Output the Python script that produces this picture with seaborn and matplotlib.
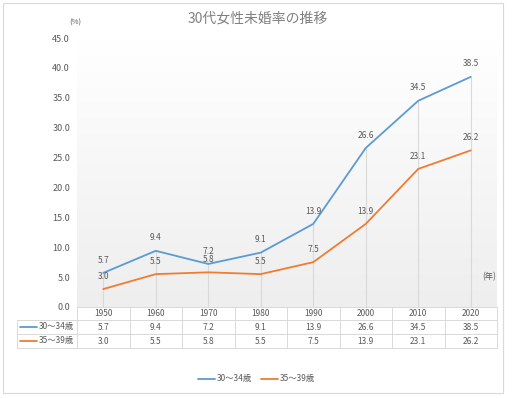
import numpy as np
import pandas as pd
import seaborn as sns
import matplotlib.pyplot as plt
from matplotlib.lines import Line2D
from matplotlib.patches import Rectangle
from matplotlib.colors import LinearSegmentedColormap

sns.set_style("white")
plt.rcParams['font.family'] = ['Noto Sans CJK JP', 'DejaVu Sans']

# データ
years = ['1950', '1960', '1970', '1980', '1990', '2000', '2010', '2020']
age_30_34 = [5.7, 9.4, 7.2, 9.1, 13.9, 26.6, 34.5, 38.5]
age_35_39 = [3.0, 5.5, 5.8, 5.5, 7.5, 13.9, 23.1, 26.2]
series_names = ['30～34歳', '35～39歳']
colors = ['#5b9bd5', '#ed7d31']
title = '30代女性未婚率の推移'

W, H = 512, 398
fig = plt.figure(figsize=(W / 100, H / 100), dpi=100)
fig.patch.set_facecolor('white')

def fx(px):
    return px / W

def fy(py):
    return 1 - py / H

# 外枠
fig.patches.append(Rectangle((fx(3), fy(393)), fx(500), 390 / H, transform=fig.transFigure,
                             fill=False, edgecolor='#d9d9d9', lw=0.8))

x_left, x_right, y_top, y_bot = 77, 497, 38, 307
ax = fig.add_axes([fx(x_left), fy(y_bot), fx(x_right - x_left), (y_bot - y_top) / H])

df = pd.DataFrame({'x': list(range(len(years))) * 2,
                   'val': age_30_34 + age_35_39,
                   'series': [series_names[0]] * len(years) + [series_names[1]] * len(years)})

# 背景グラデーション
grad = np.linspace(0, 1, 100).reshape(-1, 1)
cmap = LinearSegmentedColormap.from_list('g', ['#eeeeee', '#ffffff'])
ax.imshow(grad, extent=(-0.5, 7.5, 0, 45), aspect='auto', cmap=cmap, origin='lower', zorder=0)

# 降下線
for i in range(len(years)):
    top = max(age_30_34[i], age_35_39[i])
    ax.plot([i, i], [0, top], color='#d9d9d9', lw=0.8, zorder=1)

sns.lineplot(data=df, x='x', y='val', hue='series', palette=colors, ax=ax, lw=1.3,
             legend=False, zorder=3)

for vals in (age_30_34, age_35_39):
    for i, v in enumerate(vals):
        ax.text(i, v + 1.4, f'{v:.1f}', ha='center', va='bottom', fontsize=6, color='#595959', zorder=4)

ax.set_xlim(-0.5, 7.5)
ax.set_ylim(0, 45)
ax.set_yticks(np.arange(0, 46, 5))
ax.set_yticklabels([f'{t:.1f}' for t in np.arange(0, 46, 5)], fontsize=6.5, color='#595959')
ax.set_xticks([])
ax.set_xlabel('')
ax.set_ylabel('')
ax.tick_params(axis='y', length=0, pad=5)
for s in ax.spines.values():
    s.set_visible(False)

# タイトルなど
fig.text(fx(258), fy(19), title, ha='center', va='center', fontsize=10, color='#808080')
fig.text(fx(75), fy(23), '(%)', ha='center', va='center', fontsize=5.5, color='#595959')
fig.text(fx(489), fy(277), '(年)', ha='center', va='center', fontsize=6, color='#595959')

# データテーブル
col_w = (x_right - x_left) / len(years)
row_y = [307, 320, 334, 348]
grid_c = '#d9d9d9'

def hline(x0, x1, y):
    fig.add_artist(Line2D([fx(x0), fx(x1)], [fy(y), fy(y)], color=grid_c, lw=0.7))

def vline(x, y0, y1):
    fig.add_artist(Line2D([fx(x), fx(x)], [fy(y0), fy(y1)], color=grid_c, lw=0.7))

hline(x_left, x_right, row_y[0])
for y in row_y[1:]:
    hline(17, x_right, y)
for k in range(len(years) + 1):
    vline(x_left + k * col_w, row_y[0], row_y[3])
vline(17, row_y[1], row_y[3])

for i, yr in enumerate(years):
    cx = x_left + (i + 0.5) * col_w
    fig.text(fx(cx), fy((row_y[0] + row_y[1]) / 2), yr, ha='center', va='center', fontsize=6, color='#595959')
    fig.text(fx(cx), fy((row_y[1] + row_y[2]) / 2), f'{age_30_34[i]:.1f}', ha='center', va='center', fontsize=6, color='#595959')
    fig.text(fx(cx), fy((row_y[2] + row_y[3]) / 2), f'{age_35_39[i]:.1f}', ha='center', va='center', fontsize=6, color='#595959')

for r, (name, c) in enumerate(zip(series_names, colors)):
    yc = (row_y[r + 1] + row_y[r + 2]) / 2
    fig.add_artist(Line2D([fx(20), fx(37)], [fy(yc), fy(yc)], color=c, lw=1.3))
    fig.text(fx(39), fy(yc), name, ha='left', va='center', fontsize=6, color='#595959')

# 凡例
for (lx, name, c) in [(198, series_names[0], colors[0]), (261, series_names[1], colors[1])]:
    fig.add_artist(Line2D([fx(lx), fx(lx + 17)], [fy(379), fy(379)], color=c, lw=1.3))
    fig.text(fx(lx + 19), fy(379), name, ha='left', va='center', fontsize=6, color='#595959')

fig.savefig('out.png', dpi=100)
